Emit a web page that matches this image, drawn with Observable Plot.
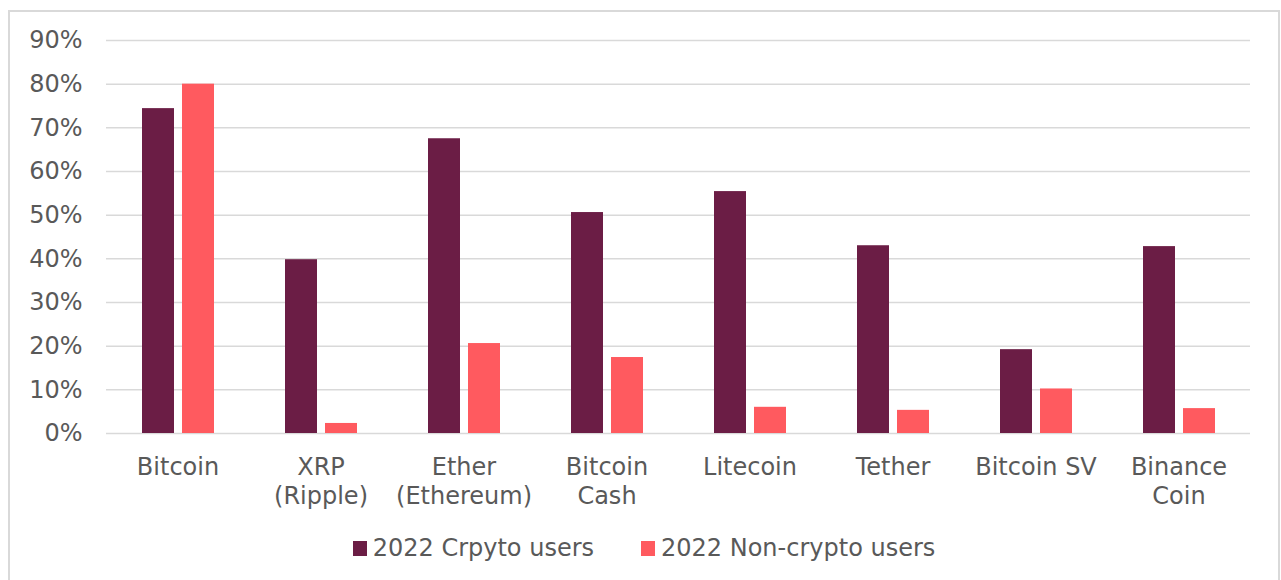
<!DOCTYPE html>
<html>
<head>
<meta charset="utf-8">
<script src="https://cdn.jsdelivr.net/npm/d3@7"></script>
<script src="https://cdn.jsdelivr.net/npm/@observablehq/plot@0.6"></script>
<style>
  html, body { margin: 0; padding: 0; background: #fff; width: 1281px; height: 580px; overflow: hidden; }
  #frame { position: absolute; left: 8px; top: 10px; width: 1272px; height: 620px; box-sizing: border-box; border: 2px solid #d9d9d9; border-bottom: none; }
  #chart { position: absolute; left: 0; top: 0; }
  #legend { position: absolute; left: 8px; width: 1272px; top: 534px; display: flex; justify-content: center; gap: 47px;
            font-family: "DejaVu Sans", Verdana, sans-serif; font-size: 24px; color: #595959; }
  .item { display: flex; align-items: center; }
  .sw { width: 14px; height: 15px; margin-right: 6px; display: inline-block; }
</style>
</head>
<body>
<div id="frame"></div>
<div id="chart"></div>
<div id="legend"></div>
<script>
const categories = ["Bitcoin", "XRP (Ripple)", "Ether (Ethereum)", "Bitcoin Cash", "Litecoin", "Tether", "Bitcoin SV", "Binance Coin"];
const categoryLabels = ["Bitcoin", "XRP\n(Ripple)", "Ether\n(Ethereum)", "Bitcoin\nCash", "Litecoin", "Tether", "Bitcoin SV", "Binance\nCoin"];
const seriesNames = ["2022 Crpyto users", "2022 Non-crypto users"];
const cryptoUsers = [0.744, 0.398, 0.675, 0.506, 0.554, 0.430, 0.192, 0.428];
const nonCryptoUsers = [0.800, 0.023, 0.206, 0.174, 0.060, 0.053, 0.102, 0.057];
const colors = ["#6B1D45", "#FF5A5F"];
const yTicks = [0, 0.1, 0.2, 0.3, 0.4, 0.5, 0.6, 0.7, 0.8, 0.9];

const data = [];
categories.forEach((c, i) => {
  data.push({cat: c, series: seriesNames[0], value: cryptoUsers[i]});
  data.push({cat: c, series: seriesNames[1], value: nonCryptoUsers[i]});
});
const labelOf = new Map(categories.map((c, i) => [c, categoryLabels[i]]));

const chart = Plot.plot({
  width: 1281,
  height: 520,
  marginLeft: 105,
  marginRight: 31,
  marginTop: 40,
  marginBottom: 87,
  style: {fontFamily: "DejaVu Sans, Verdana, sans-serif", fontSize: "24px", color: "#595959", background: "transparent"},
  fx: {domain: categories, padding: 0, label: null},
  x: {domain: seriesNames, paddingInner: 0.2, paddingOuter: 0.88, axis: null},
  y: {domain: [0, 0.9], label: null},
  color: {domain: seriesNames, range: colors},
  marks: [
    Plot.gridY(yTicks, {stroke: "#d9d9d9", strokeOpacity: 1, strokeWidth: 1.5}),
    Plot.axisY(yTicks, {tickSize: 0, tickPadding: 24, tickFormat: d3.format(".0%"), fontSize: 24, fill: "#595959", label: null}),
    Plot.axisFx({anchor: "bottom", tickSize: 0, tickPadding: 22, tickFormat: d => labelOf.get(d), fontSize: 24, fill: "#595959", lineHeight: 1.17, label: null}),
    Plot.barY(data, {fx: "cat", x: "series", y: "value", fill: "series"})
  ]
});
document.getElementById("chart").appendChild(chart);

const legend = document.getElementById("legend");
seriesNames.forEach((s, i) => {
  const it = document.createElement("div");
  it.className = "item";
  const sw = document.createElement("span");
  sw.className = "sw";
  sw.style.background = colors[i];
  const t = document.createElement("span");
  t.textContent = s;
  it.appendChild(sw); it.appendChild(t);
  legend.appendChild(it);
});
</script>
</body>
</html>
